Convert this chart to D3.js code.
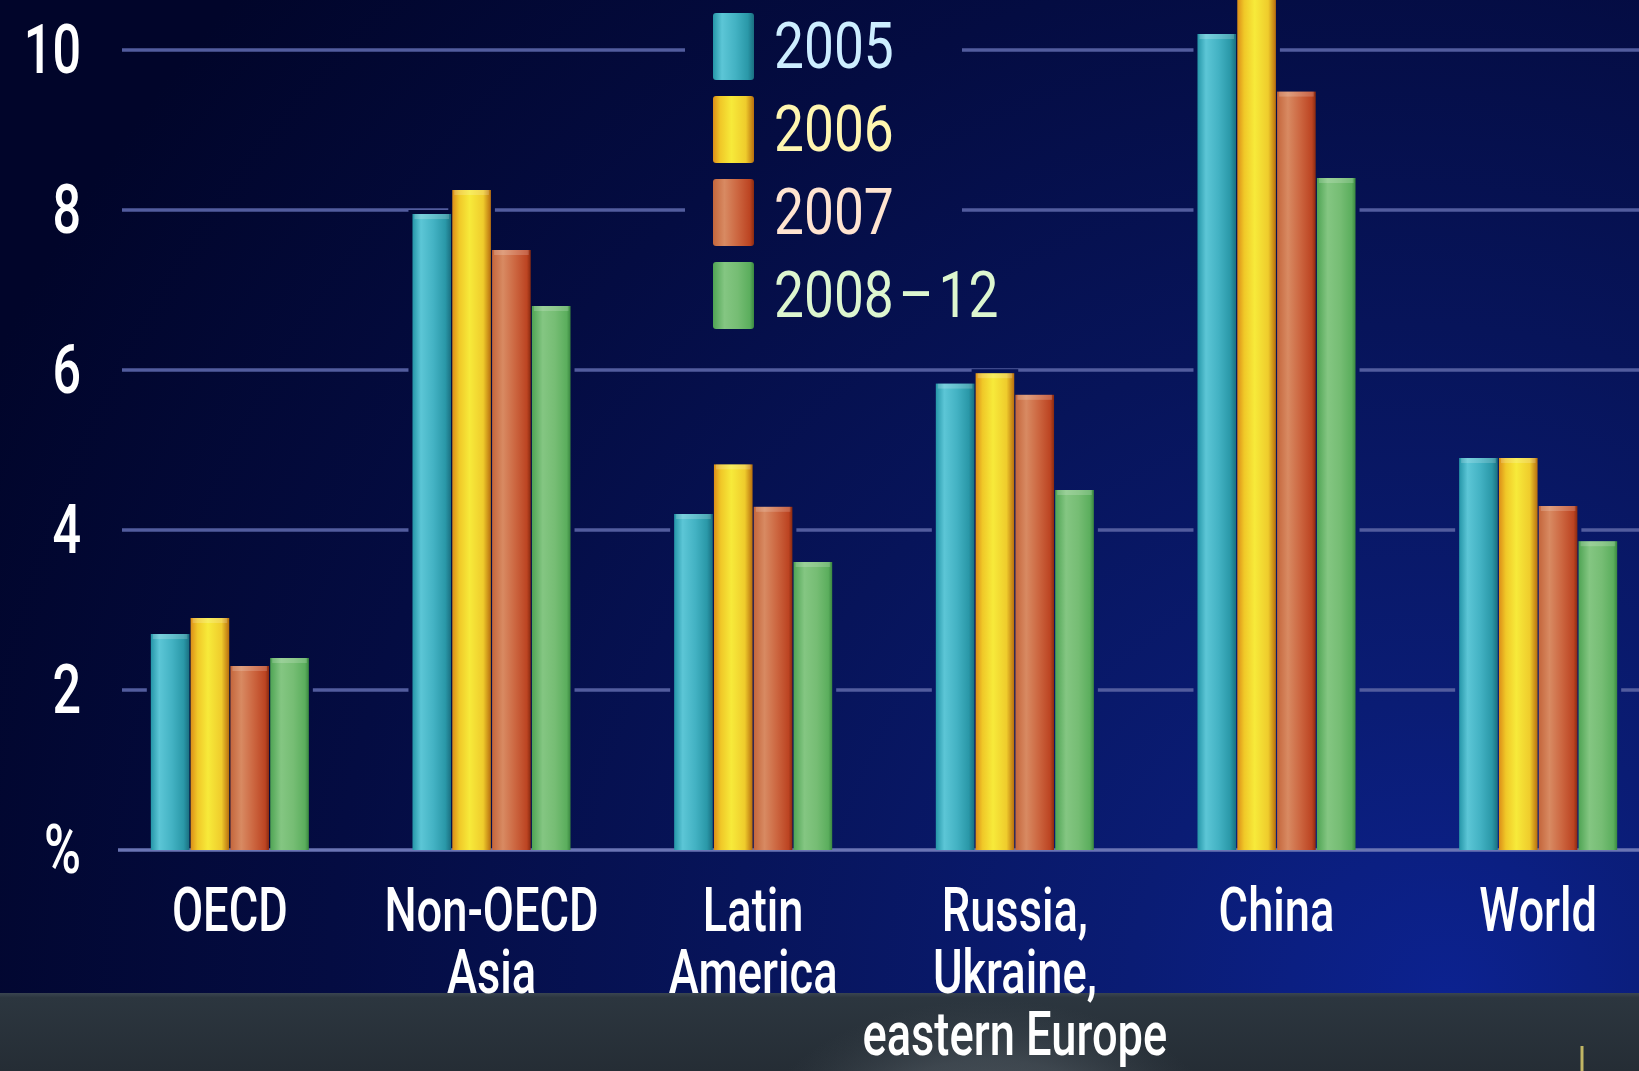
<!DOCTYPE html>
<html><head><meta charset="utf-8">
<script src="https://cdn.jsdelivr.net/npm/d3@7/dist/d3.min.js"></script>
<style>html,body{margin:0;padding:0;background:#030a3a;overflow:hidden}</style>
</head><body><svg id="c" width="1639" height="1071"></svg>
<script>
// ---------- data ----------
const categories = ["OECD","Non-OECD Asia","Latin America","Russia, Ukraine, eastern Europe","China","World"];
const categoryLines = [["OECD"],["Non-OECD","Asia"],["Latin","America"],["Russia,","Ukraine,","eastern Europe"],["China"],["World"]];
const seriesNames = ["2005","2006","2007","2008–12"];
const values2005   = [2.7, 7.95, 4.2, 5.83, 10.2, 4.9];
const values2006   = [2.9, 8.25, 4.82, 5.96, 11.0, 4.9];
const values2007   = [2.3, 7.5, 4.29, 5.69, 9.48, 4.3];
const values2008_12 = [2.4, 6.8, 3.6, 4.5, 8.4, 3.86];
const yTickValues = [0,2,4,6,8,10];
const yTickLabels = ["%","2","4","6","8","10"];

const seriesValues = [values2005, values2006, values2007, values2008_12];
const legendTextColors = ["#cdeeff","#fff6b0","#ffe4d0","#ddf6cf"];
const gradStops = [
  [[0,"#2596a8"],[0.22,"#5cc6d6"],[0.55,"#43b2c3"],[0.85,"#2a98a8"],[1,"#1a6f80"]],
  [[0,"#dc8e18"],[0.18,"#f0c828"],[0.45,"#f7ea3a"],[0.8,"#efcc2c"],[1,"#b86e0e"]],
  [[0,"#c4663c"],[0.28,"#d88a62"],[0.6,"#cc6640"],[0.9,"#bc4422"],[1,"#8a2a10"]],
  [[0,"#4fa454"],[0.28,"#84c682"],[0.6,"#76bd74"],[0.9,"#5bae5d"],[1,"#3a8840"]]
];

const W = 1639, H = 1071;
const svg = d3.select("#c");
const defs = svg.append("defs");

// background gradient (user space so cut-outs blend seamlessly)
const bg = defs.append("radialGradient").attr("id","bg").attr("gradientUnits","userSpaceOnUse")
  .attr("cx",1350).attr("cy",1000).attr("r",1500).attr("fx",1450).attr("fy",1000);
[[0,"#0c2290"],[0.2,"#0a1c74"],[0.45,"#07145a"],[0.7,"#040c42"],[1,"#01052a"]]
  .forEach(s => bg.append("stop").attr("offset",s[0]).attr("stop-color",s[1]));

gradStops.forEach((stops,i) => {
  const g = defs.append("linearGradient").attr("id","bar"+i).attr("x1",0).attr("x2",1).attr("y1",0).attr("y2",0);
  stops.forEach(s => g.append("stop").attr("offset",s[0]).attr("stop-color",s[1]));
});
const band = defs.append("linearGradient").attr("id","band").attr("x1",0).attr("x2",0).attr("y1",0).attr("y2",1);
[[0,"#3a4550"],[0.06,"#2c363f"],[1,"#252d35"]].forEach(s => band.append("stop").attr("offset",s[0]).attr("stop-color",s[1]));
const globe = defs.append("radialGradient").attr("id","globe");
[[0,"#8a949c",0.55],[0.6,"#6a747c",0.35],[1,"#4a545c",0]].forEach(s => globe.append("stop").attr("offset",s[0]).attr("stop-color",s[1]).attr("stop-opacity",s[2]));

svg.append("rect").attr("width",W).attr("height",H).attr("fill","url(#bg)");

// bottom band (video overlay)
svg.append("rect").attr("x",0).attr("y",993).attr("width",W).attr("height",H-993).attr("fill","url(#band)");
svg.append("ellipse").attr("cx",990).attr("cy",1150).attr("rx",240).attr("ry",150).attr("fill","url(#globe)");
svg.append("line").attr("x1",1582).attr("x2",1582).attr("y1",1046).attr("y2",H)
  .attr("stroke","#e8d870").attr("stroke-width",3).attr("opacity",0.8);

// ---------- scales ----------
const y = d3.scaleLinear().domain([0,10]).range([850,50]);
const x0 = d3.scaleBand().domain(categories).range([99,1669]).paddingInner(0.396).paddingOuter(0.198);
const x1 = d3.scaleBand().domain(seriesNames).range([0,x0.bandwidth()]).paddingInner(0.03);

// ---------- gridlines ----------
const grid = svg.append("g");
grid.selectAll("line").data(yTickValues).join("line")
  .attr("x1", d => d === 0 ? 118 : 122).attr("x2", W)
  .attr("y1", d => y(d)).attr("y2", d => y(d))
  .attr("stroke", d => d === 0 ? "#6a74b4" : "#525c9e")
  .attr("stroke-width", 3.5);

// y tick labels
const tickG = svg.append("g");
tickG.selectAll("g").data(yTickValues).join("g")
  .attr("transform", d => `translate(81,${y(d)}) scale(0.74,1)`)
  .append("text")
  .attr("text-anchor","end").attr("dominant-baseline","central")
  .attr("font-family","Roboto, 'DejaVu Sans', sans-serif").attr("font-weight",500)
  .attr("font-size",68).attr("fill","#ffffff")
  .text((d,i) => yTickLabels[i]);

// legend backing (cuts gridlines)
svg.append("rect").attr("x",685).attr("y",0).attr("width",277).attr("height",340).attr("fill","url(#bg)");

// ---------- bars ----------
const barData = [];
categories.forEach((c,ci) => seriesNames.forEach((s,si) => barData.push({c, s, si, v: seriesValues[si][ci]})));

const barsG = svg.append("g");
barsG.selectAll("rect.cut").data(barData).join("rect").attr("class","cut")
  .attr("x", d => x0(d.c) + x1(d.s) - 4)
  .attr("y", d => y(d.v) - 4)
  .attr("width", x1.bandwidth() + 8)
  .attr("height", d => y(0) - y(d.v) + 2)
  .attr("fill","url(#bg)");
barsG.selectAll("rect.bar").data(barData).join("rect").attr("class","bar")
  .attr("x", d => x0(d.c) + x1(d.s))
  .attr("y", d => y(d.v))
  .attr("width", x1.bandwidth())
  .attr("height", d => y(0) - y(d.v))
  .attr("fill", d => `url(#bar${d.si})`);
barsG.selectAll("rect.cap").data(barData).join("rect").attr("class","cap")
  .attr("x", d => x0(d.c) + x1(d.s) + 2)
  .attr("y", d => y(d.v))
  .attr("width", x1.bandwidth() - 4)
  .attr("height", 5)
  .attr("fill","#ffffff").attr("opacity",0.18);

// ---------- category labels ----------
const catG = svg.append("g");
categoryLines.forEach((lines,ci) => {
  const g = catG.append("g")
    .attr("transform", `translate(${x0(categories[ci]) + x0.bandwidth()/2},0) scale(0.73,1)`);
  g.selectAll("text").data(lines).join("text")
    .attr("x",0).attr("y",(d,i) => 931 + i*62)
    .attr("text-anchor","middle")
    .attr("font-family","Roboto, 'DejaVu Sans', sans-serif").attr("font-weight",500)
    .attr("font-size",62).attr("fill","#ffffff")
    .text(d => d);
});

// ---------- legend ----------
const legend = svg.append("g").attr("transform","translate(713,13)");
const item = legend.selectAll("g").data(seriesNames).join("g")
  .attr("transform",(d,i) => `translate(0,${i*83})`);
item.append("rect").attr("width",41).attr("height",67).attr("rx",3)
  .attr("fill",(d,i) => `url(#bar${i})`);
const lt = item.append("g").attr("transform","translate(61,55) scale(0.82,1)")
  .append("text")
  .attr("font-family","Roboto, 'DejaVu Sans', sans-serif").attr("font-weight",400)
  .attr("font-size",65).attr("fill",(d,i) => legendTextColors[i]);
lt.each(function(d){
  const t = d3.select(this);
  const parts = d.split("–");
  if (parts.length === 2) {
    t.append("tspan").text(parts[0]);
    t.append("tspan").attr("dx",6).text("–");
    t.append("tspan").attr("dx",6).text(parts[1]);
  } else {
    t.text(d);
  }
});
</script>
</body></html>
